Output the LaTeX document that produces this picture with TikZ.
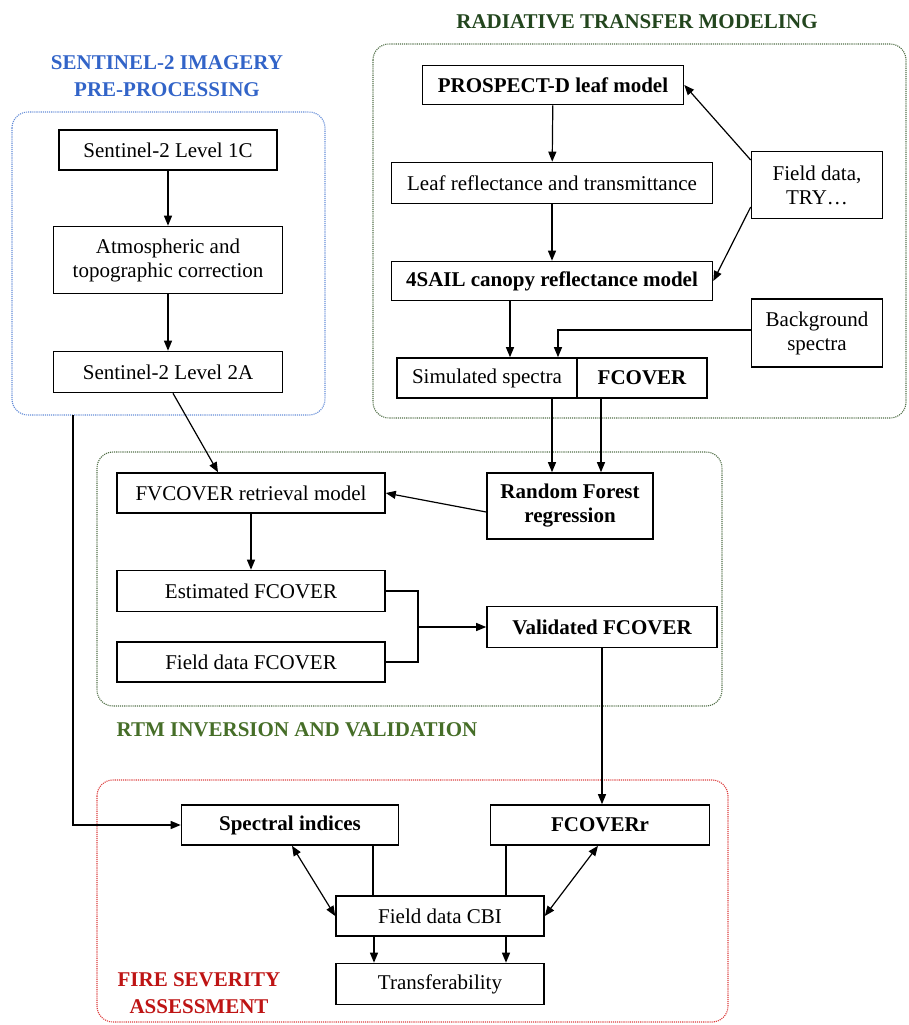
\documentclass[tikz,border=0pt]{standalone}
\usepackage{fontspec}
\setmainfont{Liberation Serif}
\usetikzlibrary{arrows.meta,positioning,calc}
\definecolor{s2blue}{RGB}{50,100,200}
\definecolor{s2line}{RGB}{100,140,215}
\definecolor{rtmdark}{RGB}{35,70,30}
\definecolor{rtmgreen}{RGB}{70,110,40}
\definecolor{rtmline}{RGB}{80,110,70}
\definecolor{fired}{RGB}{190,20,20}
\definecolor{fireline}{RGB}{220,60,60}
\begin{document}
\begin{tikzpicture}
[x=1pt,y=-1pt,
 box/.style={draw,line width=1.6pt,inner sep=2pt,align=center,font=\fontsize{21}{24}\selectfont},
 bbox/.style={box,font=\fontsize{21}{24}\selectfont\bfseries},
 arr/.style={line width=1.2pt,-{Triangle[length=10pt,width=8pt]}},
 darr/.style={line width=1.2pt,{Triangle[length=10pt,width=8pt]}-{Triangle[length=10pt,width=8pt]}},
 link/.style={line width=1.2pt},
 group/.style={line width=1.1pt,densely dotted,rounded corners=16pt},
 title/.style={align=center,font=\fontsize{21}{27}\selectfont\bfseries}]

\useasboundingbox (0,0) rectangle (909,1025);

\draw[group,s2line] (12,112) rectangle (325,415);
\draw[group,rtmline] (373,44) rectangle (906,418);
\draw[group,rtmline] (97,452) rectangle (722,706);
\draw[group,fireline] (97,780) rectangle (728,1022);

\node[title,s2blue] (T1) at (167,76) {SENTINEL-2 IMAGERY\\PRE-PROCESSING};
\node[title,rtmdark] (T2) at (637,22) {RADIATIVE TRANSFER MODELING};
\node[title,rtmgreen] (T3) at (297,730) {RTM INVERSION AND VALIDATION};
\node[title,fired] (T4) at (199,993) {FIRE SEVERITY\\ASSESSMENT};

\node[box,minimum width=218pt,minimum height=40pt] (L1C) at (168,150) {Sentinel-2 Level 1C};
\node[box,minimum width=229pt,minimum height=67pt] (ATM) at (168,260) {Atmospheric and\\topographic correction};
\node[box,minimum width=229pt,minimum height=41pt] (L2A) at (168,372) {Sentinel-2 Level 2A};

\node[bbox,minimum width=261pt,minimum height=39pt] (PRO) at (553,85) {PROSPECT-D leaf model};
\node[box,minimum width=321pt,minimum height=41pt] (LRT) at (552,183) {Leaf reflectance and transmittance};
\node[bbox,minimum width=321pt,minimum height=39pt] (SAIL) at (552,281) {4SAIL canopy reflectance model};
\node[box,minimum width=131pt,minimum height=67pt] (FLD) at (817,185) {Field data,\\TRY\dots};
\node[box,minimum width=131pt,minimum height=68pt] (BGS) at (817,333) {Background\\spectra};
\node[box,minimum width=180pt,minimum height=40pt] (SIM) at (487,378) {Simulated spectra};
\node[bbox,minimum width=130pt,minimum height=40pt] (FCV) at (642,378) {FCOVER};

\node[box,minimum width=268pt,minimum height=40pt] (RET) at (251,493) {FVCOVER retrieval model};
\node[bbox,minimum width=166pt,minimum height=66pt] (RF) at (570,506) {Random Forest\\regression};
\node[box,minimum width=268pt,minimum height=41pt] (EST) at (251,591) {Estimated FCOVER};
\node[box,minimum width=268pt,minimum height=40pt] (FFC) at (251,662) {Field data FCOVER};
\node[bbox,minimum width=230pt,minimum height=41pt] (VAL) at (602,627) {Validated FCOVER};

\node[bbox,minimum width=217pt,minimum height=40pt] (SPI) at (290,825) {Spectral indices};
\node[bbox,minimum width=219pt,minimum height=40pt] (FCR) at (600,825) {FCOVERr};
\node[box,minimum width=208pt,minimum height=40pt] (CBI) at (440,916) {Field data CBI};
\node[box,minimum width=208pt,minimum height=41pt] (TRF) at (440,984) {Transferability};

\coordinate (J) at (418,627);
\coordinate (S2OUT) at (73,415);

\draw[arr] (L1C) -- (ATM);
\draw[arr] (ATM) -- (L2A);
\draw[arr] ([xshift=5pt]L2A.south) -- ([xshift=-33pt]RET.north);
\draw[arr] (S2OUT) |- (SPI.west);

\draw[arr] (PRO) -- (LRT);
\draw[arr] (LRT) -- (SAIL);
\draw[arr] ([yshift=25pt]FLD.west) -- (PRO.east);
\draw[arr] ([yshift=-22pt]FLD.west) -- (SAIL.east);
\draw[arr] ([xshift=-42pt]SAIL.south) -- ([xshift=-42pt]SAIL.south |- SIM.north);
\draw[arr] ([yshift=3pt]BGS.west) -| ([xshift=71pt]SIM.north);
\draw[arr] ([xshift=65pt]SIM.south) -- ([xshift=65pt]SIM.south |- RF.north);
\draw[arr] ([xshift=-41pt]FCV.south) -- ([xshift=-41pt]FCV.south |- RF.north);

\draw[arr] ([yshift=-6pt]RF.west) -- (RET.east);
\draw[arr] (RET) -- (EST);
\draw[link] (EST.east) -| (J) |- (FFC.east);
\draw[arr] (J) -- (VAL.west);
\draw[arr] (VAL.south) -- (VAL.south |- FCR.north);

\draw[link] ([xshift=83pt]SPI.south) -- ([xshift=83pt]SPI.south |- CBI.north);
\draw[link] ([xshift=-94pt]FCR.south) -- ([xshift=-94pt]FCR.south |- CBI.north);
\draw[darr] ([xshift=2pt]SPI.south) -- (CBI.west);
\draw[darr] ([xshift=-2pt]FCR.south) -- (CBI.east);
\draw[arr] ([xshift=-66pt]CBI.south) -- ([xshift=-66pt]CBI.south |- TRF.north);
\draw[arr] ([xshift=66pt]CBI.south) -- ([xshift=66pt]CBI.south |- TRF.north);

\end{tikzpicture}
\end{document}
